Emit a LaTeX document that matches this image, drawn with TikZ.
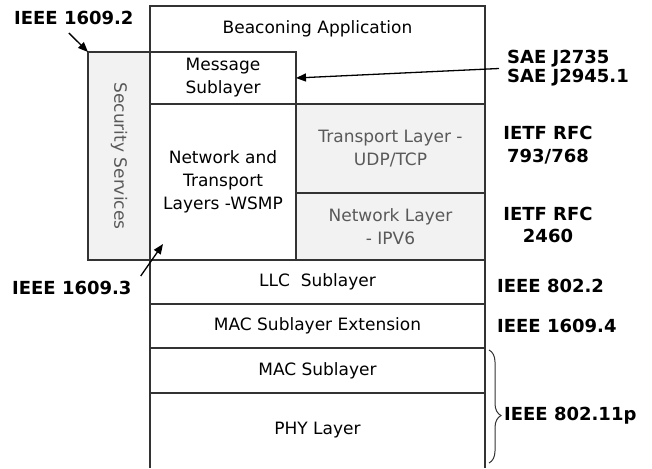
\documentclass[tikz,border=0pt]{standalone}
\usepackage{fontspec}
\setmainfont{DejaVu Sans}
\usetikzlibrary{arrows.meta,decorations.pathreplacing}
\definecolor{boxfill}{HTML}{F2F2F2}
\definecolor{greytext}{HTML}{595959}
\newcommand\regfont{\fontsize{17}{23}\selectfont}
\newcommand\labfont{\fontsize{18}{21}\selectfont\bfseries}
\begin{document}
\begin{tikzpicture}[x=1pt, y=-1pt,
  layer box/.style={rectangle,draw=black!80,line width=1.2pt,fill=white,inner sep=0pt,outer sep=0pt,anchor=north west,align=center,font=\regfont},
  grey box/.style={layer box,fill=boxfill,text=greytext},
  std label/.style={font=\labfont,inner sep=0pt,align=center},
  ptr/.style={-{Triangle[length=10pt,width=8pt]},line width=1.3pt,black}]
\useasboundingbox (0,0) rectangle (652,468);
\begin{scope}
\node[layer box,minimum width=335,minimum height=98] (beacon) at (150,6) {};
\node[font=\regfont] (beacontxt) at (317.5,29) {Beaconing Application};
\node[grey box,minimum width=62,minimum height=208] (sec) at (88,52) {};
\node[font=\regfont,text=greytext,rotate=-90] (sectxt) at (sec.center) {Security Services};
\node[layer box,minimum width=146,minimum height=52] (msg) at (150,52) {Message\\Sublayer};
\node[layer box,minimum width=146,minimum height=156] (net) at (150,104) {Network and\\Transport\\Layers -WSMP};
\node[grey box,minimum width=189,minimum height=89] (tcp) at (296,104) {Transport Layer -\\UDP/TCP};
\node[grey box,minimum width=189,minimum height=67] (ipv6) at (296,193) {Network Layer\\ - IPV6};
\node[layer box,minimum width=335,minimum height=44] (llc) at (150,260) {LLC\ \ Sublayer};
\node[layer box,minimum width=335,minimum height=44] (macx) at (150,304) {MAC Sublayer Extension};
\node[layer box,minimum width=335,minimum height=45] (mac) at (150,348) {MAC Sublayer};
\node[layer box,draw=none,fill=none,minimum width=335,minimum height=75] (phy) at (150,393) {PHY Layer};
\end{scope}
\draw[black!80,line width=1.2pt] (phy.south west) -- (phy.north west) (phy.north east) -- (phy.south east);
%\node[layer box] (x) at (,) {};
\begin{scope}[every node/.style={std label}]
\node[anchor=west] (ieeeA) at (14,18) {IEEE 1609.2};
\node[anchor=west] (ieeeB) at (12,288) {IEEE 1609.3};
\node[anchor=west,align=left] (sae) at (507,68.5) {SAE J2735\\[-2pt]SAE J2945.1};
\node (rfcA) at (548,145) {IETF RFC\\[2pt]793/768};
\node (rfcB) at (548,224.5) {IETF RFC\\[1pt]2460};
\node[anchor=west] (llcstd) at (497,286) {IEEE 802.2};
\node[anchor=west] (macxstd) at (497,326) {IEEE 1609.4};
\node[anchor=west] (phystd) at (504,416) {IEEE 802.11p};
\end{scope}
\coordinate (brtop) at (489,350);
\coordinate (brbot) at (489,463);
\draw[ptr] ([xshift=-5pt,yshift=-8pt]ieeeA.south) -- (sec.north west);
\draw[ptr] ([xshift=-8pt]sae.west) -- (msg.east);
\draw[ptr] ([xshift=9pt,yshift=5pt]ieeeB.north east) -- ([xshift=13pt,yshift=16pt]net.south west);
\draw[black!80,line width=1pt,decorate,decoration={brace,amplitude=12pt,aspect=0.58}] (brtop) -- (brbot);
\end{tikzpicture}
\end{document}
